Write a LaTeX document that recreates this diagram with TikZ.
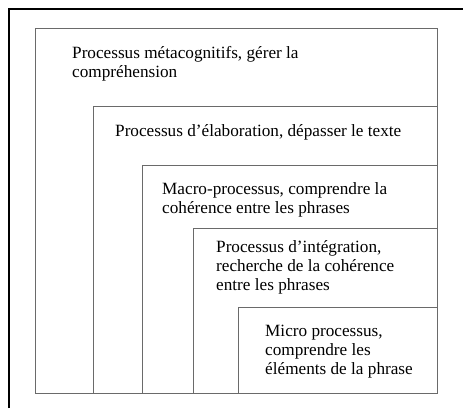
\documentclass[tikz,border=0pt]{standalone}
\usepackage{fontspec}
\setmainfont{Liberation Serif}
\definecolor{boxgray}{HTML}{6A6A6A}
\begin{document}
\begin{tikzpicture}[x=1pt,y=-1pt,
  box/.style={draw=boxgray, line width=0.9pt, anchor=north west, inner sep=0pt, outer sep=0pt},
  lbl/.style={anchor=base west, inner sep=0pt, align=left, font=\fontsize{17.2}{18.8}\selectfont}]
\useasboundingbox (0,0) rectangle (463,408);
\coordinate (fbl) at (9,408);
\coordinate (ftl) at (9,9);
\coordinate (ftr) at (463,9);
\draw[line width=1.6pt] (fbl) -- (ftl) -- (ftr);
\node[box, minimum width=402pt, minimum height=365pt] (r1) at (35,28) {};
\node[box, minimum width=344pt, minimum height=287pt] (r2) at (93,106) {};
\node[box, minimum width=295pt, minimum height=228pt] (r3) at (142,165) {};
\node[box, minimum width=244pt, minimum height=165pt] (r4) at (193,228) {};
\node[box, minimum width=199pt, minimum height=86pt] (r5) at (238,307) {};
\node[lbl] (t1) at (72,77.5) {Processus métacognitifs, gérer la\\compréhension};
\node[lbl] (t2) at (115,136) {Processus d’élaboration, dépasser le texte};
\node[lbl] (t3) at (162,213) {Macro-processus, comprendre la\\cohérence entre les phrases};
\node[lbl] (t4) at (216,290) {Processus d’intégration,\\recherche de la cohérence\\entre les phrases};
\node[lbl] (t5) at (265,374) {Micro processus,\\comprendre les\\éléments de la phrase};
\end{tikzpicture}
\end{document}
